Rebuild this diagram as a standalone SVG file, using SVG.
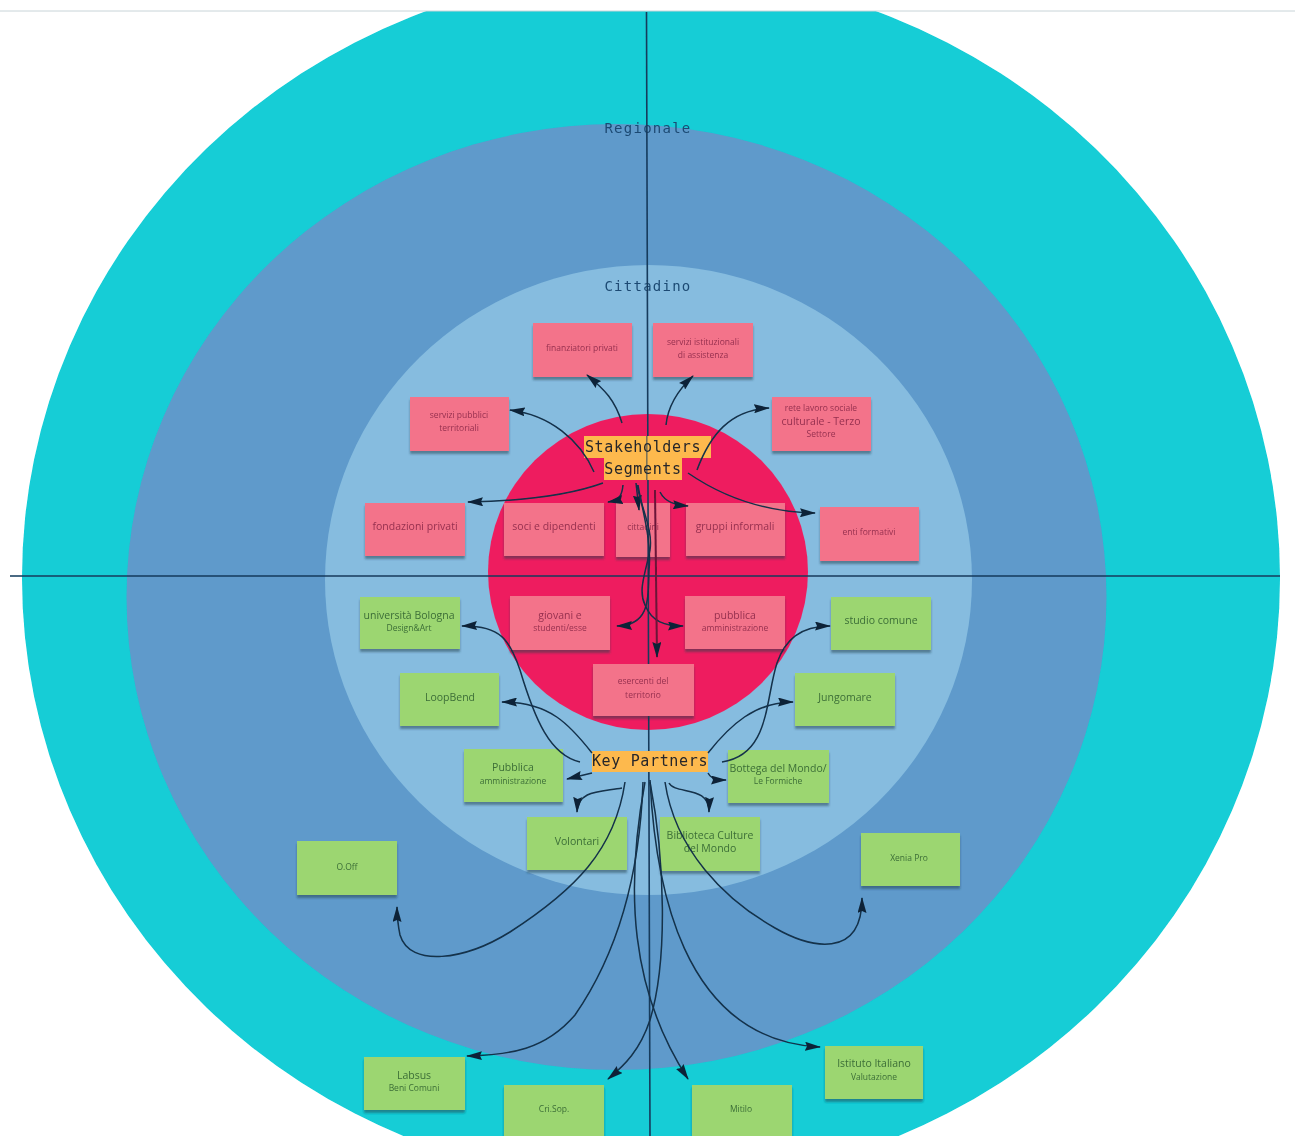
<svg xmlns="http://www.w3.org/2000/svg" width="1295" height="1136" viewBox="0 0 1295 1136">
<style>
.s{filter:url(#sh)}
.r rect{fill:#f3738a}
.g rect{fill:#9cd671}
.r text{fill:#96304f}
.g text{fill:#3c6e37}
.n text{font-family:"Open Sans","Liberation Sans",sans-serif;font-size:10.500px;text-anchor:middle}
.n text.sm{font-size:8.500px}
.l rect{fill:#fdb94d}
.l text,.t{font-family:"DejaVu Sans Mono","Liberation Mono",monospace;text-anchor:middle;letter-spacing:.65px}
.l text{font-size:15px;fill:#26262a}
.t{font-size:14px;letter-spacing:1.250px;fill:#1d4a73}
#conn path{fill:none;stroke:#12304a;stroke-width:1.500;marker-end:url(#a)}
#conn path.m{stroke:#6a1238;stroke-width:2}
.ax{stroke:#163a5c;stroke-width:1.600;fill:none}
</style>
<defs>
<marker id="a" viewBox="0 0 16 9" refX="15" refY="4.500" markerWidth="16" markerHeight="9" markerUnits="userSpaceOnUse" orient="auto"><path d="M0 0L16 4.500L0 9L2 4.500Z" fill="#0e2438"/></marker>
<filter id="sh" x="-10%" y="-10%" width="120%" height="130%"><feDropShadow dx="0" dy="3" stdDeviation="1.200" flood-color="#1c3a4a" flood-opacity=".5"/></filter>
<filter id="b" x="0" y="0" width="100%" height="100%"><feGaussianBlur stdDeviation="0.600"/></filter>
<clipPath id="c"><rect x="0" y="11" width="1295" height="1125"/></clipPath>
</defs>
<rect width="1295" height="1136" fill="#fff"/>
<g filter="url(#b)">
<g id="bands" clip-path="url(#c)">
<ellipse cx="651" cy="578" rx="629" ry="607" fill="#12cdd6"/>
<ellipse cx="616.5" cy="597" rx="490" ry="473" fill="#5e9acb"/>
<ellipse cx="648.5" cy="580" rx="323.500" ry="315" fill="#86bcdf"/>
<ellipse cx="648" cy="572" rx="160" ry="158" fill="#ee1f5f"/>
</g>
<line x1="0" y1="11" x2="1295" y2="11" stroke="#c8d4d8" stroke-width="1"/>
<text class="t" x="648" y="133">Regionale</text>
<text class="t" x="648" y="291">Cittadino</text>
<g class="n r">
<g id="n1"><rect class="s" x="533" y="323" width="99" height="54"/><text x="582" y="351" class="sm">finanziatori privati</text></g>
<g id="n2"><rect class="s" x="653" y="323" width="100" height="54"/><text x="703" y="345" class="sm">servizi istituzionali</text><text x="703" y="358" class="sm">di assistenza</text></g>
<g id="n3"><rect class="s" x="410" y="397" width="99" height="54"/><text x="459" y="418" class="sm">servizi pubblici</text><text x="459" y="431" class="sm">territoriali</text></g>
<g id="n4"><rect class="s" x="772" y="397" width="99" height="54"/><text x="821" y="411" class="sm">rete lavoro sociale</text><text x="821" y="425">culturale - Terzo</text><text x="821" y="437" class="sm">Settore</text></g>
<g id="n5"><rect class="s" x="365" y="503" width="100" height="53"/><text x="415" y="530">fondazioni privati</text></g>
<g id="n6"><rect class="s" x="504" y="503" width="100" height="53"/><text x="554" y="530">soci e dipendenti</text></g>
<g id="n7"><rect class="s" x="616" y="503" width="54" height="54"/><text x="643" y="530" class="sm">cittadini</text></g>
<g id="n8"><rect class="s" x="686" y="503" width="99" height="53"/><text x="735" y="530">gruppi informali</text></g>
<g id="n9"><rect class="s" x="820" y="507" width="99" height="54"/><text x="869" y="535" class="sm">enti formativi</text></g>
<g id="n10"><rect class="s" x="510" y="596" width="100" height="54"/><text x="560" y="619">giovani e</text><text x="560" y="631" class="sm">studenti/esse</text></g>
<g id="n11"><rect class="s" x="685" y="596" width="100" height="53"/><text x="735" y="619">pubblica</text><text x="735" y="631" class="sm">amministrazione</text></g>
</g>
<path class="ax" d="M646.500 12L650 1136M10 576H1280"/>
<g class="n r">
<g id="n12"><rect class="s" x="593" y="664" width="101" height="52"/><text x="643" y="684" class="sm">esercenti del</text><text x="643" y="698" class="sm">territorio</text></g>
</g>
<g class="n g">
<g id="n13"><rect class="s" x="360" y="597" width="100" height="52"/><text x="409" y="619">università Bologna</text><text x="409" y="631" class="sm">Design&amp;Art</text></g>
<g id="n14"><rect class="s" x="400" y="673" width="99" height="53"/><text x="450" y="701">LoopBend</text></g>
<g id="n15"><rect class="s" x="464" y="749" width="99" height="53"/><text x="513" y="771">Pubblica</text><text x="513" y="784" class="sm">amministrazione</text></g>
<g id="n16"><rect class="s" x="527" y="817" width="100" height="53"/><text x="577" y="845">Volontari</text></g>
<g id="n17"><rect class="s" x="660" y="817" width="100" height="54"/><text x="710" y="839">Biblioteca Culture</text><text x="710" y="852">del Mondo</text></g>
<g id="n18"><rect class="s" x="728" y="750" width="101" height="53"/><text x="778" y="772">Bottega del Mondo/</text><text x="778" y="784" class="sm">Le Formiche</text></g>
<g id="n19"><rect class="s" x="795" y="673" width="100" height="53"/><text x="845" y="701">Jungomare</text></g>
<g id="n20"><rect class="s" x="831" y="597" width="100" height="53"/><text x="881" y="624">studio comune</text></g>
<g id="n21"><rect class="s" x="297" y="841" width="100" height="54"/><text x="347" y="870" class="sm">O.Off</text></g>
<g id="n22"><rect class="s" x="861" y="833" width="99" height="53"/><text x="909" y="861" class="sm">Xenia Pro</text></g>
<g id="n23"><rect class="s" x="364" y="1057" width="101" height="53"/><text x="414" y="1079">Labsus</text><text x="414" y="1091" class="sm">Beni Comuni</text></g>
<g id="n24"><rect class="s" x="504" y="1085" width="100" height="54"/><text x="554" y="1112" class="sm">Cri.Sop.</text></g>
<g id="n25"><rect class="s" x="692" y="1085" width="100" height="54"/><text x="741" y="1112" class="sm">Mitilo</text></g>
<g id="n26"><rect class="s" x="825" y="1046" width="98" height="53"/><text x="874" y="1067">Istituto Italiano</text><text x="874" y="1080" class="sm">Valutazione</text></g>
</g>
<g class="l">
<g id="stakeholders"><rect x="584" y="436" width="127" height="22"/><rect x="604" y="458" width="78" height="22"/><text x="643" y="452">Stakeholders</text><text x="643" y="474">Segments</text></g>
<path class="ax" d="M646.800 436V480" stroke-opacity=".55"/>
<g id="partners"><rect x="592" y="751" width="116" height="21"/><text x="650" y="766">Key Partners</text></g>
</g>
<g id="conn">
<path d="M622 423C615 400 605 390 587 375"/>
<path d="M666 425C668 405 678 390 693 376"/>
<path d="M594 472C580 440 550 415 510 410"/>
<path d="M697 470C710 435 730 410 769 408"/>
<path d="M603 483C570 495 520 501 468 502"/>
<path d="M688 473C720 495 760 512 815 513"/>
<path d="M623 485C622 495 620 500 608 502"/>
<path d="M660 492C665 502 675 505 688 506"/>
<path d="M636 483L639 510"/>
<path d="M638 485C642 510 652 540 649 570C648 600 650 625 617 626"/>
<path d="M637 485C642 510 653 530 650 550C645 575 638 590 645 605C652 622 665 626 683 626"/>
<path class="m" d="M655 490L657 657"/>
<path d="M580 762C550 755 535 720 520 670C510 640 500 625 462 626"/>
<path d="M592 753C570 725 550 702 502 702"/>
<path d="M592 773L567 779"/>
<path d="M622 788C600 792 578 790 577 812"/>
<path d="M625 782C615 850 575 890 510 932C465 960 410 968 400 935C398 925 397 915 397 907"/>
<path d="M643 782C640 870 620 950 575 1015C545 1050 510 1055 467 1056"/>
<path d="M650 782C665 860 668 960 650 1020C640 1050 625 1065 608 1079"/>
<path d="M645 782C625 890 630 990 688 1079"/>
<path d="M650 780C655 880 680 1040 820 1047"/>
<path d="M665 782C675 850 725 900 775 928C810 948 862 960 862 898"/>
<path d="M669 783C675 795 710 785 709 812"/>
<path d="M708 773C712 780 718 780 726 780"/>
<path d="M708 753C730 725 755 702 793 702"/>
<path d="M722 762C770 755 765 700 777 663C785 640 800 626 830 626"/>
</g>
</g>
</svg>
